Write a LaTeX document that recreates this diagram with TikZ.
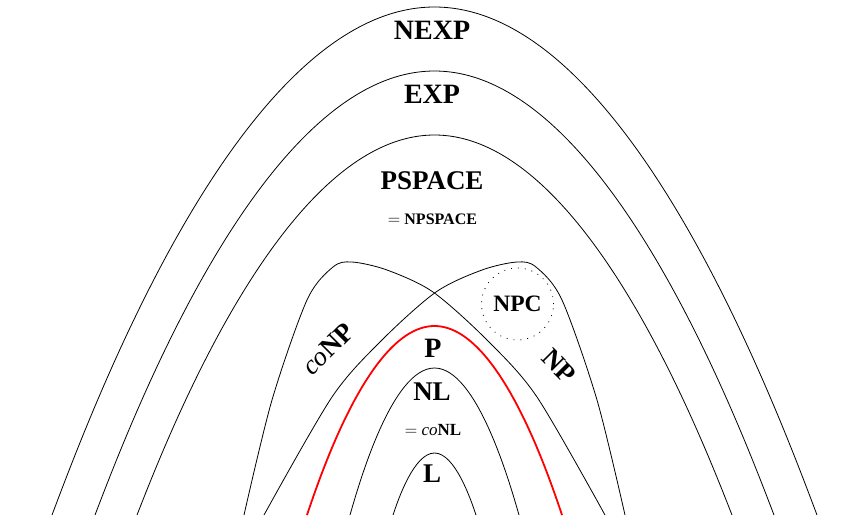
\documentclass[tikz,border=0pt]{standalone}
\usepackage{fontspec}
\setmainfont{Liberation Serif}

\begin{document}
\begin{tikzpicture}[x=1pt, y=-1pt, line width=0.8pt,
  every node/.style={inner sep=0pt},
  cls/.style={font=\fontsize{28}{28}\selectfont\bfseries},
  eqn/.style={font=\fontsize{16}{16}\selectfont}]

\useasboundingbox (0,0) rectangle (854,515);
\clip (0,0) rectangle (854,515);

% outer classes
\draw (52,515) parabola bend (434.5,7) (817,515);
\draw (95,515) parabola bend (434.5,71) (774,515);
\draw (137,515) parabola bend (434.5,135) (732,515);

% coNP and NP
\draw plot[smooth] coordinates {(244,515) (272,400) (307,300) (333,267) (352,262) (387,270) (433,292) (487,340) (537,397) (605,515)};
\draw plot[smooth] coordinates {(625,515) (597,400) (562,300) (536,267) (517,262) (482,270) (436,292) (382,340) (332,397) (264,515)};

% inner classes
\draw[red, line width=1.8pt] (307,515) parabola bend (434.5,326) (562,515);
\draw (350,515) parabola bend (434.5,368) (519,515);
\draw (393,515) parabola bend (434.5,453) (476,515);

\node[cls, anchor=base] (nexp) at (432,39) {NEXP};
\node[cls, anchor=base] (exp) at (432,103) {EXP};
\node[cls, font=\fontsize{27}{27}\selectfont\bfseries, anchor=base] (pspace) at (432,189) {PSPACE};
\node[eqn, anchor=base] (npspace) at (432.5,224) {$=$ \textbf{NPSPACE}};
\node[circle, draw, dash pattern=on 0.9pt off 6pt, minimum size=72pt,
      font=\fontsize{23.5}{23.5}\selectfont\bfseries] (npc) at (517.5,304) {NPC};
\node[cls, font=\fontsize{27}{27}\selectfont, rotate=45] (conp) at (328,349) {\textit{co}\textbf{NP}};
\node[cls, font=\fontsize{27}{27}\selectfont\bfseries, rotate=-45] (np) at (559,366) {NP};
\node[cls, anchor=base] (p) at (433,357) {P};
\node[cls, font=\fontsize{27}{27}\selectfont\bfseries, anchor=base] (nl) at (432,400) {NL};
\node[eqn, font=\fontsize{17}{17}\selectfont, anchor=base] (conl) at (433,435) {$=$ \textit{co}\textbf{NL}};
\node[cls, font=\fontsize{27}{27}\selectfont\bfseries, anchor=base] (l) at (432,482) {L};

\end{tikzpicture}
\end{document}
